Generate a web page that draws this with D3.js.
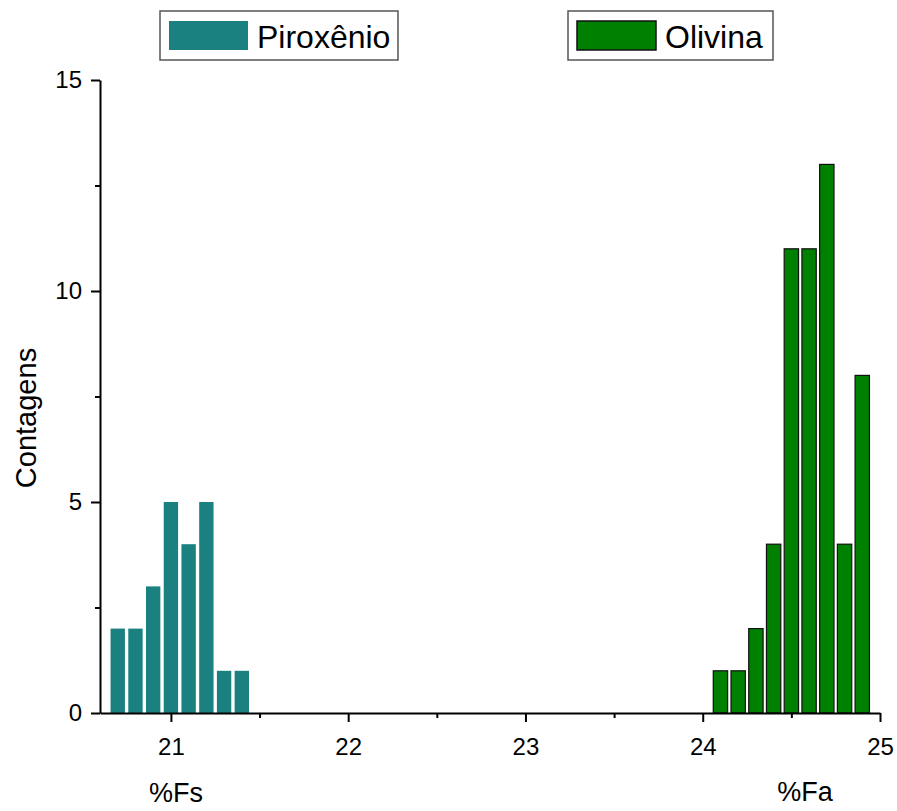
<!DOCTYPE html>
<html><head><meta charset="utf-8">
<script src="https://cdn.jsdelivr.net/npm/d3@7"></script>
<style>body{margin:0;background:#fff;} text{font-family:"Liberation Sans",Arial,sans-serif;fill:#000;}</style>
</head><body>
<script>
const pyroxCenters = [20.7, 20.8, 20.9, 21.0, 21.1, 21.2, 21.3, 21.4];
const pyroxCounts  = [2, 2, 3, 5, 4, 5, 1, 1];
const olivCenters  = [24.1, 24.2, 24.3, 24.4, 24.5, 24.6, 24.7, 24.8, 24.9];
const olivCounts   = [1, 1, 2, 4, 11, 11, 13, 4, 8];
const xTicks = [21, 22, 23, 24, 25];
const yTicks = [0, 5, 10, 15];
const seriesNames = ["Piroxênio", "Olivina"];

const W = 897, H = 811;
const svg = d3.select("body").append("svg").attr("width", W).attr("height", H);
const x = d3.scaleLinear().domain([20.6, 25]).range([100, 880]);
const y = d3.scaleLinear().domain([0, 15]).range([713, 80]);
const binW = 0.1, barFrac = 0.81;

function bars(centers, counts, fill, stroke) {
  svg.append("g").selectAll("rect").data(centers.map((c, i) => ({c, v: counts[i]})))
    .join("rect")
    .attr("x", d => x(d.c - binW * barFrac / 2))
    .attr("width", d => x(d.c + binW * barFrac / 2) - x(d.c - binW * barFrac / 2))
    .attr("y", d => y(d.v))
    .attr("height", d => y(0) - y(d.v))
    .attr("fill", fill)
    .attr("stroke", stroke)
    .attr("stroke-width", stroke === "none" ? 0 : 1.2);
}
bars(pyroxCenters, pyroxCounts, "#1a8080", "none");
bars(olivCenters, olivCounts, "#008000", "#111");

// axes
const xAxis = svg.append("g").attr("transform", `translate(0,${y(0)})`)
  .call(d3.axisBottom(x).tickValues(xTicks).tickSize(9).tickSizeOuter(0).tickFormat(d3.format("d")));
svg.append("g").attr("transform", `translate(0,${y(0)})`)
  .call(d3.axisBottom(x).tickValues([21.5, 22.5, 23.5, 24.5]).tickSize(5).tickSizeOuter(0).tickFormat(""))
  .select(".domain").remove();
const yAxis = svg.append("g").attr("transform", `translate(${x(20.6)},0)`)
  .call(d3.axisLeft(y).tickValues(yTicks).tickSize(9).tickSizeOuter(0).tickFormat(d3.format("d")));
svg.append("g").attr("transform", `translate(${x(20.6)},0)`)
  .call(d3.axisLeft(y).tickValues([2.5, 7.5, 12.5]).tickSize(5).tickSizeOuter(0).tickFormat(""))
  .select(".domain").remove();
svg.selectAll(".domain, .tick line").attr("stroke", "#000").attr("stroke-width", 2);
xAxis.selectAll("text").attr("font-size", 24).attr("dy", null).attr("y", 42);
yAxis.selectAll("text").attr("font-size", 24).attr("x", -18).attr("dy", "0.3em");

// labels
svg.append("text").attr("transform", "translate(36,418) rotate(-90)").attr("text-anchor", "middle")
  .attr("font-size", 29).text("Contagens");
svg.append("text").attr("x", 176).attr("y", 802).attr("text-anchor", "middle").attr("font-size", 27).text("%Fs");
svg.append("text").attr("x", 805).attr("y", 801).attr("text-anchor", "middle").attr("font-size", 27).text("%Fa");

// legends
const legends = [
  {name: seriesNames[0], bx: 160, bw: 238, fill: "#1a8080", stroke: "none"},
  {name: seriesNames[1], bx: 568, bw: 205, fill: "#008000", stroke: "#111"}
];
legends.forEach(l => {
  const g = svg.append("g");
  g.append("rect").attr("x", l.bx).attr("y", 11).attr("width", l.bw).attr("height", 49)
    .attr("fill", "#fff").attr("stroke", "#555").attr("stroke-width", 1.5);
  g.append("rect").attr("x", l.bx + 9).attr("y", 21).attr("width", 79).attr("height", 29)
    .attr("fill", l.fill).attr("stroke", l.stroke).attr("stroke-width", 1.5);
  g.append("text").attr("x", l.bx + 97).attr("y", 48).attr("font-size", 32).text(l.name);
});
</script>
</body></html>
